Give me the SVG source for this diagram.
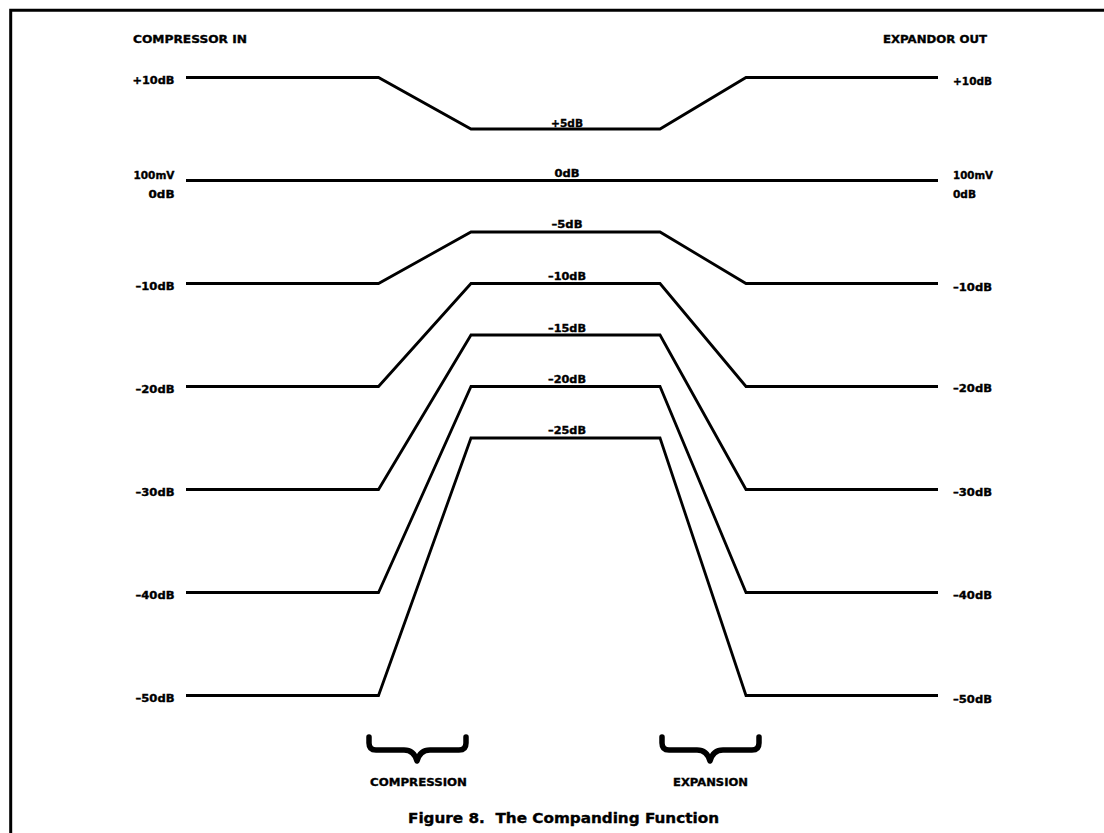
<svg xmlns="http://www.w3.org/2000/svg" width="1104" height="833" viewBox="0 0 1104 833">
  <style>
    .ln { fill: none; stroke: #000; stroke-width: 2.8; stroke-linejoin: miter; }
    .br { fill: none; stroke: #000; stroke-width: 5.5; stroke-linejoin: round; stroke-linecap: round; }
    text { font-family: "DejaVu Sans", "Liberation Sans", Arial, sans-serif; font-weight: bold; fill: #000; stroke: #000; stroke-width: 0.35; }
    .lab { font-size: 10.5px; }
    .l { text-anchor: end; }
    .r { text-anchor: start; }
    .c { text-anchor: middle; }
    .head { font-size: 11px; }
    .cap { font-size: 13.5px; }
  </style>
  <rect x="0" y="0" width="1104" height="833" fill="#fff"/>
  <path d="M10.7,833 V10.3 H1104" fill="none" stroke="#000" stroke-width="3"/>

  <g id="headers">
    <text class="head" x="133" y="43" textLength="114" lengthAdjust="spacingAndGlyphs">COMPRESSOR IN</text>
    <text class="head" x="883" y="43" textLength="104" lengthAdjust="spacingAndGlyphs">EXPANDOR OUT</text>
  </g>

  <g id="curves">
    <path id="c10" class="ln" d="M186,77.5 H378.5 L471,129 H660 L746,77.5 H938"/>
    <path id="c0" class="ln" d="M186,180.5 H938"/>
    <path id="cm10" class="ln" d="M186,283.5 H378.5 L471,232 H660 L746,283.5 H938"/>
    <path id="cm20" class="ln" d="M186,386.5 H378.5 L471,283.5 H660 L746,386.5 H938"/>
    <path id="cm30" class="ln" d="M186,489.5 H378.5 L471,335 H660 L746,489.5 H938"/>
    <path id="cm40" class="ln" d="M186,592.5 H378.5 L471,386.5 H660 L746,592.5 H938"/>
    <path id="cm50" class="ln" d="M186,695.5 H378.5 L471,438 H660 L746,695.5 H938"/>
  </g>

  <g id="left-labels">
    <text class="lab l" x="174.5" y="84" textLength="42" lengthAdjust="spacingAndGlyphs">+10dB</text>
    <text class="lab l" x="174.5" y="179.3" textLength="41" lengthAdjust="spacingAndGlyphs">100mV</text>
    <text class="lab l" x="174.5" y="198.3" textLength="26" lengthAdjust="spacingAndGlyphs">0dB</text>
    <text class="lab l" x="174.5" y="290" textLength="39" lengthAdjust="spacingAndGlyphs">–10dB</text>
    <text class="lab l" x="174.5" y="393" textLength="39" lengthAdjust="spacingAndGlyphs">–20dB</text>
    <text class="lab l" x="174.5" y="496" textLength="39" lengthAdjust="spacingAndGlyphs">–30dB</text>
    <text class="lab l" x="174.5" y="599" textLength="39" lengthAdjust="spacingAndGlyphs">–40dB</text>
    <text class="lab l" x="174.5" y="702" textLength="39" lengthAdjust="spacingAndGlyphs">–50dB</text>
  </g>

  <g id="right-labels">
    <text class="lab r" x="953" y="84.5" textLength="39" lengthAdjust="spacingAndGlyphs">+10dB</text>
    <text class="lab r" x="953" y="179.3" textLength="40" lengthAdjust="spacingAndGlyphs">100mV</text>
    <text class="lab r" x="953" y="198.3" textLength="23" lengthAdjust="spacingAndGlyphs">0dB</text>
    <text class="lab r" x="953" y="291" textLength="39" lengthAdjust="spacingAndGlyphs">–10dB</text>
    <text class="lab r" x="953" y="391.5" textLength="39" lengthAdjust="spacingAndGlyphs">–20dB</text>
    <text class="lab r" x="953" y="496" textLength="39" lengthAdjust="spacingAndGlyphs">–30dB</text>
    <text class="lab r" x="953" y="599" textLength="39" lengthAdjust="spacingAndGlyphs">–40dB</text>
    <text class="lab r" x="953" y="702.5" textLength="39" lengthAdjust="spacingAndGlyphs">–50dB</text>
  </g>

  <g id="center-labels">
    <text class="lab c" x="567" y="126.5" textLength="32" lengthAdjust="spacingAndGlyphs">+5dB</text>
    <text class="lab c" x="567" y="176.7" textLength="25" lengthAdjust="spacingAndGlyphs">0dB</text>
    <text class="lab c" x="567" y="228.3" textLength="31" lengthAdjust="spacingAndGlyphs">–5dB</text>
    <text class="lab c" x="567" y="280" textLength="38" lengthAdjust="spacingAndGlyphs">–10dB</text>
    <text class="lab c" x="567" y="331.5" textLength="38" lengthAdjust="spacingAndGlyphs">–15dB</text>
    <text class="lab c" x="567" y="382.5" textLength="38" lengthAdjust="spacingAndGlyphs">–20dB</text>
    <text class="lab c" x="567" y="433.5" textLength="38" lengthAdjust="spacingAndGlyphs">–25dB</text>
  </g>

  <g id="compression">
    <path class="br" d="M369,737 V743 Q369,750 376,750 H404 Q414,750 417,761 Q420,750 430,750 H459 Q466,750 466,743 V737"/>
    <text class="head c" x="418.5" y="785.7" textLength="97" lengthAdjust="spacingAndGlyphs">COMPRESSION</text>
  </g>

  <g id="expansion">
    <path class="br" d="M662,737 V743 Q662,750 669,750 H697 Q707,750 710,761 Q713,750 723,750 H752 Q759,750 759,743 V737"/>
    <text class="head c" x="710.5" y="785.7" textLength="75" lengthAdjust="spacingAndGlyphs">EXPANSION</text>
  </g>

  <g id="caption">
    <text class="cap" x="408" y="823" textLength="311" lengthAdjust="spacingAndGlyphs" xml:space="preserve">Figure 8.  The Companding Function</text>
  </g>
</svg>
